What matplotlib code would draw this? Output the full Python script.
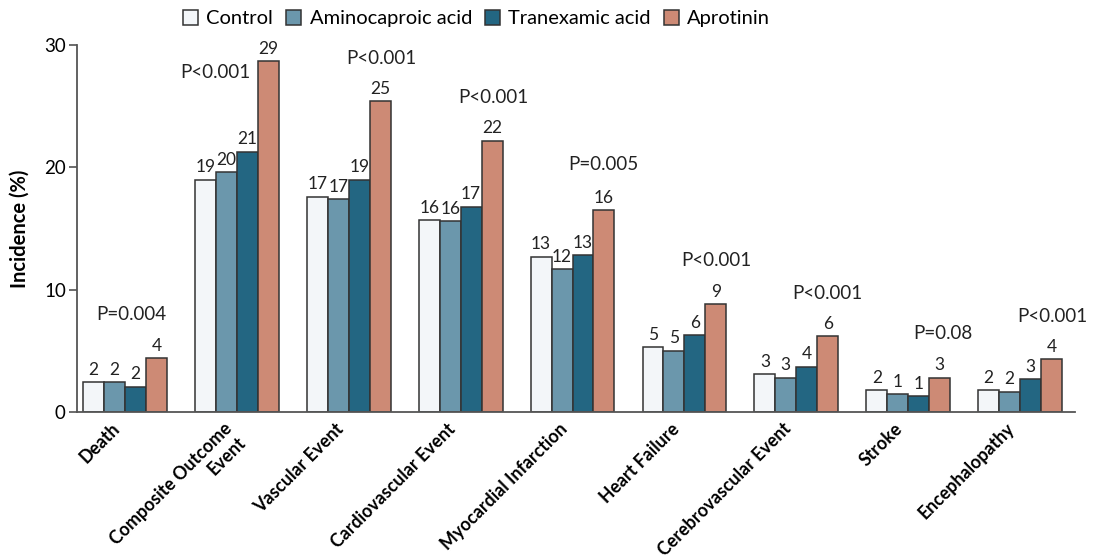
import matplotlib.pyplot as plt
import matplotlib.transforms as mtransforms
import numpy as np

plt.rcParams["font.family"] = ["Lato", "DejaVu Sans"]

outcomes = [
    "Death",
    "Composite Outcome\nEvent",
    "Vascular Event",
    "Cardiovascular Event",
    "Myocardial Infarction",
    "Heart Failure",
    "Cerebrovascular Event",
    "Stroke",
    "Encephalopathy",
]
groups = ["Control", "Aminocaproic acid", "Tranexamic acid", "Aprotinin"]

control = [2.4, 19.0, 17.6, 15.7, 12.7, 5.3, 3.1, 1.8, 1.8]
aminocaproic = [2.4, 19.6, 17.4, 15.6, 11.7, 5.0, 2.8, 1.45, 1.65]
tranexamic = [2.05, 21.3, 19.0, 16.8, 12.8, 6.3, 3.7, 1.3, 2.65]
aprotinin = [4.4, 28.7, 25.4, 22.2, 16.5, 8.8, 6.2, 2.8, 4.3]

shown_values = [
    [2, 19, 17, 16, 13, 5, 3, 2, 2],
    [2, 20, 17, 16, 12, 5, 3, 1, 2],
    [2, 21, 19, 17, 13, 6, 4, 1, 3],
    [4, 29, 25, 22, 16, 9, 6, 3, 4],
]
p_values = ["P=0.004", "P<0.001", "P<0.001", "P<0.001", "P=0.005",
            "P<0.001", "P<0.001", "P=0.08", "P<0.001"]

colors = ["#f3f6f9", "#6b97ac", "#236682", "#cd8a75"]
edge = "#333333"

# where each P label sits: x offset from group centre, height in %
p_dx = [0.06, -0.19, 0.29, 0.29, 0.28, 0.29, 0.28, 0.31, 0.29]
p_y = [8.0, 27.8, 28.9, 25.7, 20.2, 12.4, 9.7, 6.4, 7.8]

fig = plt.figure(figsize=(10.93, 5.58), dpi=100)
ax = fig.add_axes([0.0704, 0.262, 0.913, 0.657])

x = np.arange(len(outcomes))
width = 0.187
series = [control, aminocaproic, tranexamic, aprotinin]

for i, (vals, name, col) in enumerate(zip(series, groups, colors)):
    pos = x + (i - 1.5) * width
    ax.bar(pos, vals, width=width, color=col, edgecolor=edge,
           linewidth=1.1, label=name, zorder=2)
    for xp, v, s in zip(pos, vals, shown_values[i]):
        ax.text(xp, v + 0.35, str(s), ha="center", va="bottom",
                fontsize=12.5, color="#222222")

for xi, txt, dx, py in zip(x, p_values, p_dx, p_y):
    ax.text(xi + dx, py, txt, ha="center", va="center",
            fontsize=13.5, color="#222222")

ax.set_xlim(-0.43, 8.49)
ax.set_ylim(0, 30)
ax.set_yticks([0, 10, 20, 30])
ax.tick_params(axis="y", labelsize=13.5, length=6, width=1.1,
               color="#444444", pad=2)
ax.set_xticks(x)
ax.set_xticklabels(outcomes, rotation=45, ha="right", va="top",
                   rotation_mode="anchor", fontsize=12.8, fontweight="bold",
                   multialignment="right")
ax.tick_params(axis="x", length=0, pad=6)

# nudge the slanted category names a little to the left of the group centre
shift = mtransforms.ScaledTranslation(-0.14, 0, fig.dpi_scale_trans)
for lbl in ax.get_xticklabels():
    lbl.set_transform(lbl.get_transform() + shift)

ax.set_ylabel("Incidence (%)", fontsize=14.5, fontweight="bold", labelpad=10)

for side in ["top", "right"]:
    ax.spines[side].set_visible(False)
for side in ["left", "bottom"]:
    ax.spines[side].set_color("#555555")
    ax.spines[side].set_linewidth(1.3)

fig.legend(loc="upper center", bbox_to_anchor=(0.436, 1.015), ncol=4,
           frameon=False, fontsize=14.5, handlelength=0.75,
           handleheight=0.75, handletextpad=0.4, columnspacing=0.65)

fig.savefig("out.png", dpi=100)
